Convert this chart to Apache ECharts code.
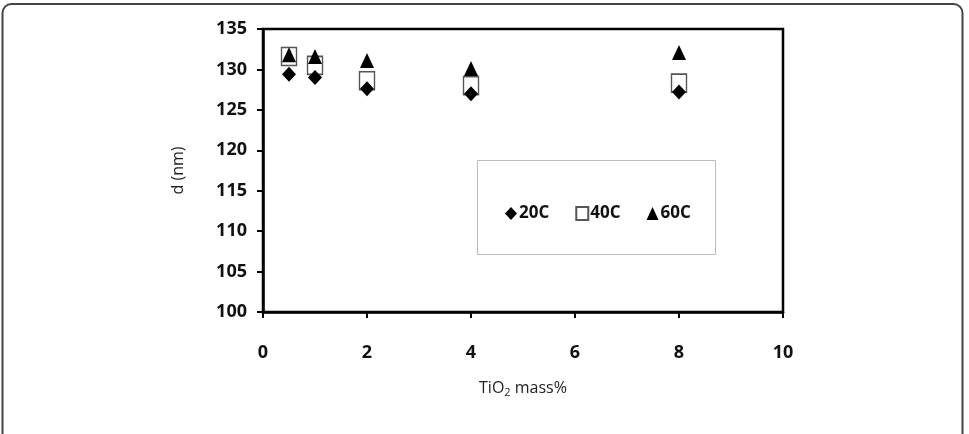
<!DOCTYPE html>
<html>
<head>
<meta charset="utf-8">
<script src="https://cdn.jsdelivr.net/npm/echarts@6/dist/echarts.min.js"></script>
<style>
  html, body { margin: 0; padding: 0; background: #fff; }
  #chart { width: 969px; height: 434px; }
</style>
</head>
<body>
<div id="chart"></div>
<script>
// TiO2 mass% values
var massPct = [0.5, 1, 2, 4, 8];
// d (nm) at each temperature
var d20 = [129.4, 129.0, 127.6, 127.0, 127.2];
var d40 = [131.6, 130.5, 128.6, 128.0, 128.3];
var d60 = [131.8, 131.6, 131.1, 130.1, 132.1];
var seriesNames = ['20C', '40C', '60C'];

function pairs(xs, ys) {
  return xs.map(function (x, i) { return [x, ys[i]]; });
}

var fam = '"Open Sans", sans-serif';
var labelFont = { fontFamily: fam, fontWeight: 'bold', fontSize: 18, color: '#111' };

var chart = echarts.init(document.getElementById('chart'));
chart.setOption({
  animation: false,
  backgroundColor: '#fff',
  grid: {
    left: 263, right: 186, top: 29, bottom: 122,
    show: true, borderColor: '#000', borderWidth: 2.5
  },
  graphic: [
    {
      type: 'rect', silent: true, z: -1,
      shape: { x: 2.5, y: 4, width: 960, height: 520, r: 9 },
      style: { fill: 'none', stroke: '#444', lineWidth: 2 }
    },
    {
      type: 'rect', silent: true,
      shape: { x: 477.5, y: 160.5, width: 238, height: 94 },
      style: { fill: '#fff', stroke: '#bbb', lineWidth: 1 }
    }
  ],
  legend: {
    left: 500, top: 200,
    itemGap: 26, itemWidth: 12, itemHeight: 13,
    textStyle: { fontFamily: fam, fontWeight: 'bold', fontSize: 17, color: '#111', padding: [0, 0, 0, -3] },
    data: seriesNames
  },
  xAxis: {
    type: 'value', min: 0, max: 10, interval: 2,
    axisLine: { show: true, lineStyle: { color: '#000', width: 2.5 } },
    axisTick: { show: true, length: 6, lineStyle: { color: '#000', width: 2 } },
    axisLabel: Object.assign({ margin: 32 }, labelFont),
    splitLine: { show: false },
    name: '{n|TiO}{s|2}{n| mass%}',
    nameLocation: 'middle', nameGap: 66,
    nameTextStyle: {
      rich: {
        n: { fontFamily: fam, fontSize: 16, color: '#222' },
        s: { fontFamily: fam, fontSize: 11, color: '#222', verticalAlign: 'bottom', padding: [9, 0, 0, 0] }
      }
    }
  },
  yAxis: {
    type: 'value', min: 100, max: 135, interval: 5,
    axisLine: { show: true, lineStyle: { color: '#000', width: 2.5 } },
    axisTick: { show: true, length: 6, lineStyle: { color: '#000', width: 2 } },
    axisLabel: Object.assign({ margin: 16 }, labelFont),
    splitLine: { show: false },
    name: 'd (nm)', nameLocation: 'middle', nameGap: 77,
    nameTextStyle: { fontFamily: fam, fontSize: 16, color: '#222' }
  },
  series: [
    {
      name: '40C', type: 'scatter', z: 1,
      symbol: 'rect', symbolSize: [15, 18],
      itemStyle: { color: '#fff', borderColor: '#555', borderWidth: 1.5, opacity: 1 },
      data: pairs(massPct, d40)
    },
    {
      name: '20C', type: 'scatter', z: 2,
      symbol: 'diamond', symbolSize: [14, 15],
      itemStyle: { color: '#000', opacity: 1 },
      data: pairs(massPct, d20)
    },
    {
      name: '60C', type: 'scatter', z: 3,
      symbol: 'triangle', symbolSize: [14, 15],
      itemStyle: { color: '#000', opacity: 1 },
      data: pairs(massPct, d60)
    }
  ]
});
</script>
</body>
</html>
